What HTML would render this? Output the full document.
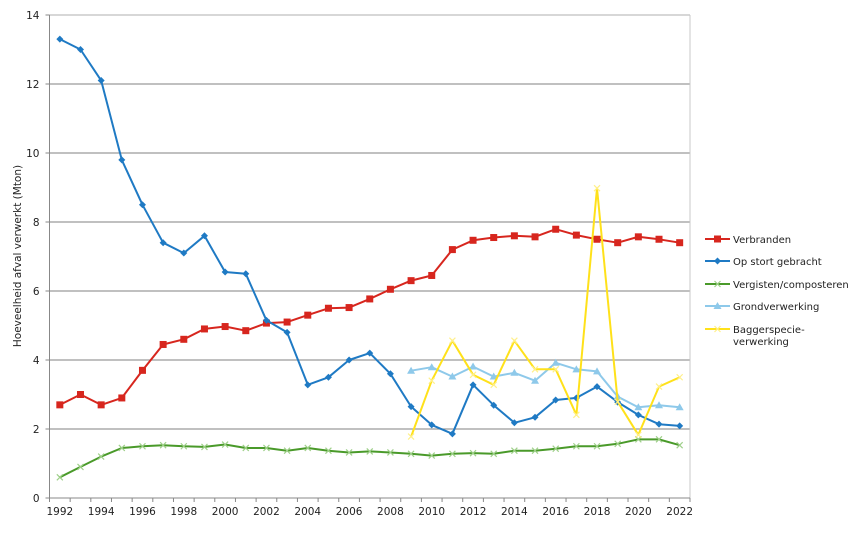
<!DOCTYPE html>
<html><head><meta charset="utf-8"><style>
html,body{margin:0;padding:0;background:#fff;}
svg text{font-family:"DejaVu Sans","Liberation Sans",sans-serif;font-size:10.5px;fill:#222;}
svg #legend text{font-size:10px;}
</style></head><body>
<svg id="chart" width="866" height="531" xmlns="http://www.w3.org/2000/svg">
<g id="grid"></g>
<g id="axes"></g>
<g id="series"></g>
<g id="legend"></g>
<text transform="translate(21,256) rotate(-90)" text-anchor="middle">Hoeveelheid afval verwerkt (Mton)</text>
</svg>
<script>
const years = [1992,1993,1994,1995,1996,1997,1998,1999,2000,2001,2002,2003,2004,2005,2006,2007,2008,2009,2010,2011,2012,2013,2014,2015,2016,2017,2018,2019,2020,2021,2022];
const verbranden = [2.7,3.0,2.7,2.9,3.7,4.45,4.6,4.9,4.97,4.85,5.07,5.1,5.3,5.5,5.52,5.77,6.05,6.3,6.45,7.2,7.47,7.55,7.6,7.57,7.79,7.62,7.5,7.4,7.57,7.5,7.4];
const opStort = [13.3,13.0,12.1,9.8,8.5,7.4,7.1,7.6,6.55,6.5,5.15,4.8,3.28,3.5,4.0,4.2,3.6,2.65,2.12,1.86,3.28,2.69,2.18,2.34,2.84,2.9,3.23,2.78,2.41,2.14,2.09];
const vergisten = [0.6,0.9,1.2,1.45,1.5,1.53,1.5,1.48,1.55,1.45,1.45,1.37,1.45,1.37,1.32,1.35,1.32,1.28,1.23,1.28,1.3,1.28,1.37,1.37,1.43,1.5,1.5,1.57,1.7,1.7,1.53];
const grond = [null,null,null,null,null,null,null,null,null,null,null,null,null,null,null,null,null,3.69,3.79,3.52,3.81,3.52,3.63,3.4,3.92,3.73,3.67,2.94,2.63,2.69,2.63];
const bagger = [null,null,null,null,null,null,null,null,null,null,null,null,null,null,null,null,null,1.78,3.4,4.56,3.57,3.28,4.56,3.73,3.73,2.41,8.98,2.79,1.83,3.23,3.5];
const yTicks = [0,2,4,6,8,10,12,14];
const xLabels = [1992,1994,1996,1998,2000,2002,2004,2006,2008,2010,2012,2014,2016,2018,2020,2022];

const NS="http://www.w3.org/2000/svg";
const L=49.5,R=690,T=15,B=498,yMax=14;
const step=(R-L)/years.length;
const xPos=i=>L+step*(i+0.5);
const yPos=v=>B-(B-T)*v/yMax;
function mk(tag,attrs,parent){const e=document.createElementNS(NS,tag);for(const k in attrs)e.setAttribute(k,attrs[k]);parent.appendChild(e);return e;}
const grid=document.getElementById('grid'),axes=document.getElementById('axes'),ser=document.getElementById('series'),leg=document.getElementById('legend');

yTicks.forEach(t=>{
  if(t>0){const g=mk('line',{x1:L,x2:R,y1:yPos(t),y2:yPos(t),stroke:'#9a9a9a','stroke-width':1.3},grid);
  
  }
  const tk=mk('line',{x1:L-4,x2:L,y1:yPos(t),y2:yPos(t),stroke:'#888'},axes);
  
  
  const lb=mk('text',{x:L-10,y:yPos(t)+4,'text-anchor':'end'},axes);lb.textContent=t;
  
  
});
const rb=mk('line',{x1:R,x2:R,y1:T,y2:B,stroke:'#c8c8c8'},axes);


const tb=mk('line',{x1:L,x2:R,y1:T,y2:T,stroke:'#c8c8c8'},axes);


const ya=mk('line',{x1:L,x2:L,y1:T,y2:B,stroke:'#888'},axes);


const xa=mk('line',{x1:L,x2:R,y1:B,y2:B,stroke:'#888'},axes);


for(let i=0;i<=years.length;i++){
  const tk=mk('line',{x1:L+step*i,x2:L+step*i,y1:B,y2:B+4,stroke:'#888'},axes);
  
  
}
xLabels.forEach(y=>{
  const i=years.indexOf(y);
  const lb=mk('text',{x:xPos(i),y:B+17,'text-anchor':'middle'},axes);lb.textContent=y;
  
  
});

function marker(kind,x,y,c,p){
  let e;
  if(kind==='square')e=mk('rect',{x:x-3.5,y:y-3.5,width:7,height:7,fill:c},p);
  else if(kind==='diamond')e=mk('path',{d:`M${x} ${y-3.5}L${x+3.5} ${y}L${x} ${y+3.5}L${x-3.5} ${y}Z`,fill:c},p);
  else if(kind==='tri')e=mk('path',{d:`M${x} ${y-4}L${x+4} ${y+3}L${x-4} ${y+3}Z`,fill:c},p);
  else e=mk('path',{d:`M${x-3} ${y-3}L${x+3} ${y+3}M${x+3} ${y-3}L${x-3} ${y+3}`,stroke:c,'stroke-width':1.2,fill:'none'},p);
  return e;
}
const seriesDefs=[
 ['verbranden',verbranden,'#d7261e','square','Verbranden'],
 ['op-stort',opStort,'#1f7ac4','diamond','Op stort gebracht'],
 ['vergisten',vergisten,'#4a9a2a','x','Vergisten/composteren'],
 ['grond',grond,'#8ec9ea','tri','Grondverwerking'],
 ['bagger',bagger,'#ffe11a','x','Baggerspecie-|verwerking']
];
seriesDefs.forEach(([id,data,c,mkind,label],si)=>{
  const g=mk('g',{},ser);
  
  
  let d='';
  data.forEach((v,i)=>{if(v==null)return;d+=(d?'L':'M')+xPos(i).toFixed(1)+' '+yPos(v).toFixed(1);});
  const p=mk('path',{d:d,fill:'none',stroke:c,'stroke-width':2,'stroke-linejoin':'round'},g);
  
  
  const mc = id==='vergisten'?'#9fd08a':(id==='bagger'?'#fff08a':c);
  data.forEach((v,i)=>{if(v==null)return;const m=marker(mkind,xPos(i),yPos(v),mc,g);
    
    });
  const ly=[239,261,284,306,329][si];
  const lg=mk('g',{},leg);
  
  
  mk('line',{x1:705,x2:730,y1:ly,y2:ly,stroke:c,'stroke-width':2},lg);
  marker(mkind,717.5,ly,mc,lg);
  const parts=label.split('|');
  parts.forEach((t,k)=>{const tx=mk('text',{x:733,y:ly+4+k*12},lg);tx.textContent=t;});
});
</script>
</body></html>
